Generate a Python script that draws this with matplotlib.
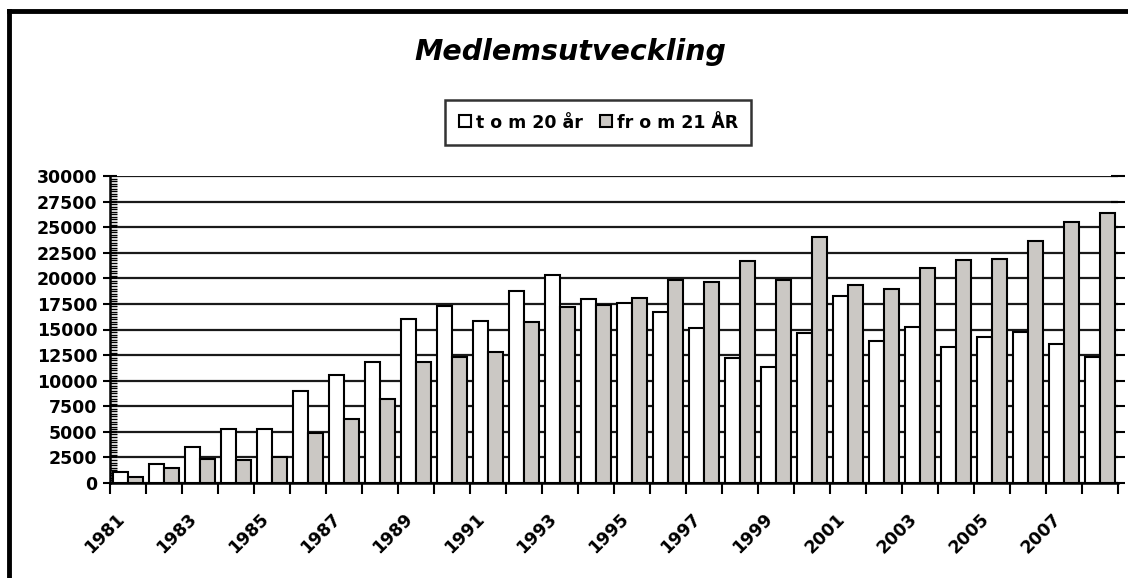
import numpy as np
import matplotlib
matplotlib.use("Agg")
import matplotlib.pyplot as plt
from matplotlib.ticker import MultipleLocator, FixedLocator, NullFormatter
from matplotlib.transforms import ScaledTranslation
from matplotlib.lines import Line2D

# ------------------------------------------------------------------
# data
# ------------------------------------------------------------------
years = list(range(1981, 2009))
under_21 = [1100, 1850, 3500, 5300, 5300, 9000, 10600, 11850, 16000, 17250,
            15850, 18750, 20300, 18000, 17600, 16700, 15150, 12250, 11300, 14700,
            18300, 13900, 15200, 13300, 14300, 14750, 13550, 12300]
over_21 = [550, 1500, 2300, 2250, 2500, 4850, 6300, 8250, 11850, 12350,
           12850, 15750, 17200, 17400, 18100, 19800, 19600, 21650, 19800, 24000,
           19300, 19000, 21050, 21800, 21850, 23650, 25550, 26350]
tick_years = [str(y) for y in years[::2]]

label_a = "t o m 20 år"
label_b = "fr o m 21 ÅR"
gray = "#cbc8c4"

fig = plt.figure(figsize=(11.28, 5.78), dpi=100)
W, H = 1128, 578
ax = fig.add_axes([110 / W, 95 / H, 1008 / W, 307 / H])

x = np.arange(len(years))
ax.bar(x + 0.29, under_21, width=0.42, color="white", edgecolor="black",
       linewidth=1.5, zorder=3)
ax.bar(x + 0.71, over_21, width=0.42, color=gray, edgecolor="black",
       linewidth=1.5, zorder=3)

ax.set_xlim(0, len(years))
ax.set_ylim(0, 30000)

# y axis: labelled majors, ruler-like minors
ax.yaxis.set_major_locator(MultipleLocator(2500))
ax.yaxis.set_minor_locator(MultipleLocator(250))
ax.grid(axis="y", which="major", color="#1a1a1a", linewidth=1.6, zorder=1)
ax.set_axisbelow(True)
ax.tick_params(axis="y", which="major", direction="inout", length=10,
               width=1.5, labelsize=12.5, pad=4, right=True)
ax.tick_params(axis="y", which="minor", direction="in", length=5, width=1)
for lab in ax.get_yticklabels():
    lab.set_fontweight("bold")

# x axis: ticks on category boundaries, labels every other year
ax.xaxis.set_major_locator(FixedLocator(np.arange(len(years) + 1)))
ax.xaxis.set_major_formatter(NullFormatter())
ax.tick_params(axis="x", which="major", direction="out", length=8, width=1.5)
ax.xaxis.set_minor_locator(FixedLocator(x[::2] + 0.5))
ax.set_xticklabels(tick_years, minor=True)
ax.tick_params(axis="x", which="minor", length=0, pad=24, labelsize=12.5)
shift = ScaledTranslation(-6 / 100, 0, fig.dpi_scale_trans)
for lab in ax.get_xticklabels(minor=True):
    lab.set_rotation(45)
    lab.set_rotation_mode("anchor")
    lab.set_ha("right")
    lab.set_va("center")
    lab.set_fontweight("bold")
    lab.set_transform(lab.get_transform() + shift)

for s in ["top", "right"]:
    ax.spines[s].set_visible(False)
ax.spines["left"].set_linewidth(1.8)
ax.spines["bottom"].set_linewidth(1.8)

# title and legend
fig.text(570 / W, 1 - 60 / H, "Medlemsutveckling", ha="center", va="baseline",
         fontsize=20.5, fontweight="bold", fontstyle="italic")

handles = [
    Line2D([], [], marker="s", linestyle="none", markersize=9,
           markerfacecolor="white", markeredgecolor="black", markeredgewidth=1.5),
    Line2D([], [], marker="s", linestyle="none", markersize=9,
           markerfacecolor=gray, markeredgecolor="black", markeredgewidth=1.5),
]
leg = fig.legend(handles, [label_a, label_b], loc="center",
                 bbox_to_anchor=(598 / W, 1 - 122.5 / H), ncol=2,
                 prop={"weight": "bold", "size": 12.5}, frameon=True,
                 fancybox=False, handlelength=0.8, handletextpad=0.25,
                 columnspacing=0.9, borderpad=0.75, borderaxespad=0)
leg.get_frame().set_edgecolor("black")
leg.get_frame().set_linewidth(1.8)

# outer chart frame (cut off at right and bottom)
fig.add_artist(Line2D([9 / W, 1], [1 - 10.5 / H, 1 - 10.5 / H],
                      color="black", linewidth=3.5))
fig.add_artist(Line2D([9 / W, 9 / W], [1 - 10.5 / H, 0],
                      color="black", linewidth=3.5))

fig.savefig("out.png", dpi=100)
